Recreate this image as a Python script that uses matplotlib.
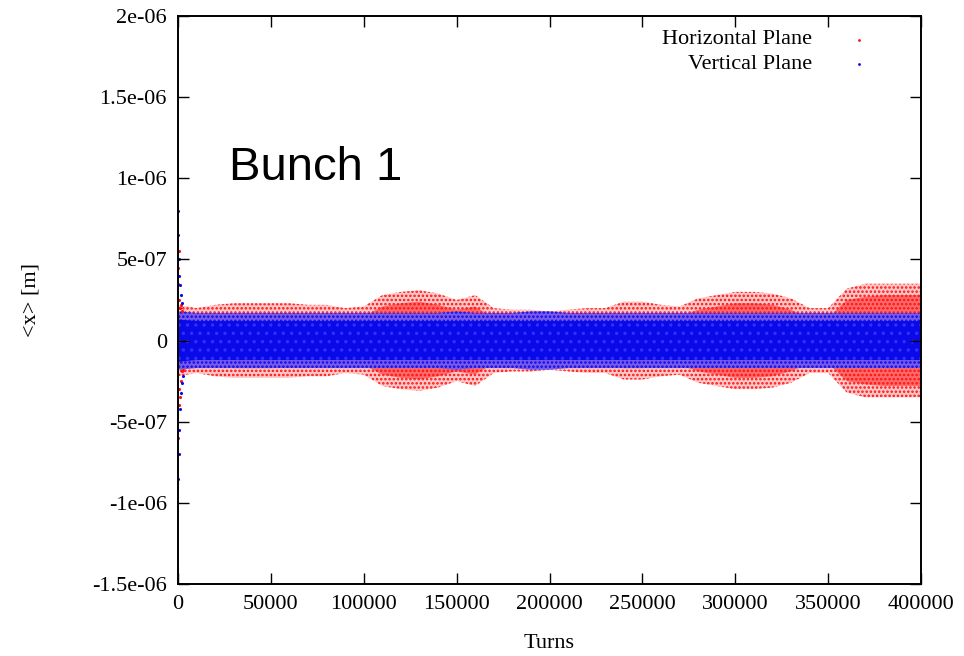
import numpy as np
import matplotlib
matplotlib.use("Agg")
import matplotlib.pyplot as plt

# envelope of the noise cloud, every 10000 turns (units of 1e-7 m)
turns = np.arange(0, 400001, 10000)
h_outer = [2.2, 2.0, 2.2, 2.3, 2.3, 2.3, 2.3, 2.2, 2.2, 2.0, 2.1,
           2.8, 3.0, 3.1, 2.9, 2.5, 2.8, 2.0, 1.9, 1.9, 1.8,
           1.9, 2.0, 2.0, 2.4, 2.4, 2.2, 2.1, 2.6, 2.8, 3.0,
           3.0, 2.9, 2.6, 2.0, 2.0, 3.2, 3.5, 3.5, 3.5, 3.5]
h_dense = [1.5, 1.4, 1.6, 1.7, 1.7, 1.7, 1.6, 1.6, 1.6, 1.4, 1.5,
           2.1, 2.3, 2.4, 2.2, 1.9, 2.1, 1.4, 1.3, 1.3, 1.3,
           1.3, 1.4, 1.4, 1.7, 1.7, 1.6, 1.5, 1.9, 2.1, 2.3,
           2.3, 2.2, 1.9, 1.4, 1.4, 2.5, 2.7, 2.8, 2.8, 2.8]
v_outer = [1.8, 1.7, 1.7, 1.7, 1.7, 1.7, 1.7, 1.7, 1.7, 1.7, 1.7,
           1.7, 1.7, 1.7, 1.7, 1.8, 1.7, 1.7, 1.7, 1.8, 1.8,
           1.7, 1.7, 1.7, 1.7, 1.7, 1.7, 1.7, 1.7, 1.7, 1.7,
           1.7, 1.7, 1.7, 1.7, 1.7, 1.7, 1.7, 1.7, 1.7, 1.7]
v_dense = [1.3, 1.2, 1.2, 1.2, 1.2, 1.2, 1.2, 1.2, 1.2, 1.2, 1.2,
           1.2, 1.2, 1.2, 1.2, 1.2, 1.2, 1.2, 1.2, 1.2, 1.2,
           1.2, 1.2, 1.2, 1.2, 1.2, 1.2, 1.2, 1.2, 1.2, 1.2,
           1.2, 1.2, 1.2, 1.2, 1.2, 1.2, 1.2, 1.2, 1.2, 1.2]

# start-up transient near turn 0 (units of 1e-7 m)
tr_turns = [0, 100, 200, 300, 400, 500, 700, 900, 1100, 1400, 1700, 2000, 2400, 2800]
tr_v = [8.0, -8.5, 6.5, -7.0, 5.0, -5.5, 4.0, -4.2, 3.4, -3.2, 2.8, -2.6, 2.3, -2.2]
tr_h = [3.5, -6.0, 4.5, -3.0, 5.5, -4.0, 2.5, -3.5, 2.0, -2.5, 2.2, -1.9, 1.8, -1.8]

xticks = [0, 50000, 100000, 150000, 200000, 250000, 300000, 350000, 400000]
yticks = [-1.5e-6, -1e-6, -5e-7, 0, 5e-7, 1e-6, 1.5e-6, 2e-6]
ytick_labels = ["-1.5e-06", "-1e-06", "-5e-07", "0", "5e-07", "1e-06", "1.5e-06", "2e-06"]

plt.rcParams["font.family"] = ["Liberation Serif", "DejaVu Serif"]
plt.rcParams["hatch.linewidth"] = 1.2

fig = plt.figure(figsize=(9.64, 6.56), dpi=100)
ax = fig.add_axes([178 / 964, 1 - 584 / 656, (921 - 178) / 964, (584 - 16) / 656])

sc = 1e-7
ho = np.array(h_outer) * sc
hd = np.array(h_dense) * sc
vo = np.array(v_outer) * sc
vd = np.array(v_dense) * sc

red = "#ff1010"
blue = "#0a0ae8"
# sparse outer fringe: tinted + dotted, dense part: stronger tint + dotted
ax.fill_between(turns, -ho, ho, facecolor="#ffc8c8", edgecolor=red, hatch="....", lw=0)
ax.fill_between(turns, -hd, hd, facecolor="#ff6a6a", edgecolor=red, hatch="....", lw=0)
ax.fill_between(turns, -vo, vo, facecolor="#7a5ae8", edgecolor=blue, hatch="....", lw=0)
ax.fill_between(turns, -vd, vd, facecolor=blue, edgecolor="#3030ff", hatch="..", lw=0)
ax.scatter(tr_turns, np.array(tr_h) * sc, s=5, color=red, lw=0)
ax.scatter(tr_turns, np.array(tr_v) * sc, s=5, color=blue, lw=0)

ax.set_xlim(0, 400000)
ax.set_ylim(-1.5e-6, 2e-6)
ax.set_xticks(xticks)
ax.set_xticklabels([str(t) for t in xticks])
ax.set_yticks(yticks)
ax.set_yticklabels(ytick_labels)
ax.tick_params(direction="in", length=8, width=1, top=True, right=True,
               labelsize=16, pad=8)
for s in ax.spines.values():
    s.set_linewidth(1.4)

ax.set_xlabel("Turns", fontsize=16, labelpad=14)
ax.set_ylabel("<x> [m]", fontsize=16, labelpad=37)

# legend drawn gnuplot style: right-aligned text, dot marker to the right
ax.text(0.853, 0.958, "Horizontal Plane", transform=ax.transAxes,
        ha="right", va="center", fontsize=16)
ax.text(0.853, 0.915, "Vertical Plane", transform=ax.transAxes,
        ha="right", va="center", fontsize=16)
ax.plot([0.917], [0.958], ".", ms=2, color=red, transform=ax.transAxes)
ax.plot([0.917], [0.915], ".", ms=2, color=blue, transform=ax.transAxes)

ax.text(0.068, 0.733, "Bunch 1", transform=ax.transAxes, fontsize=34,
        family=["Liberation Sans", "DejaVu Sans"], ha="left", va="center")

fig.savefig("out.png", dpi=100)
